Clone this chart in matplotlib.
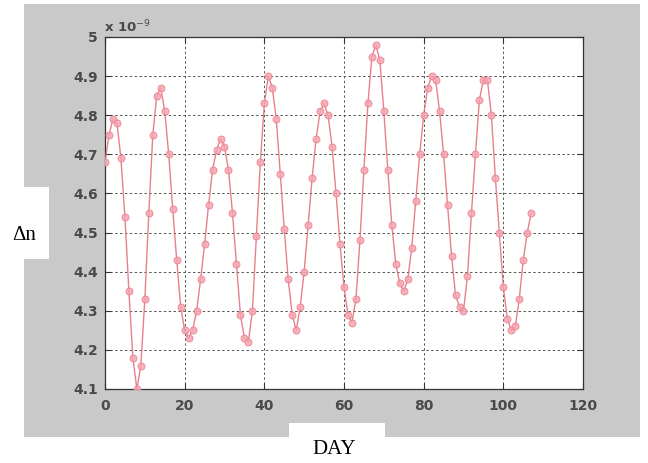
#!/usr/bin/env python3
"""
Refractive index change (x 1e-9) against day, MATLAB-style figure.
"""

import matplotlib
matplotlib.use('Agg')
import matplotlib.pyplot as plt
import matplotlib.patches as patches
import numpy as np

# values, in units of 1e-9
days = list(range(0, 108))
delta_n = [
    4.68, 4.75, 4.79, 4.78, 4.69, 4.54, 4.35, 4.18, 4.10, 4.16,
    4.33, 4.55, 4.75, 4.85, 4.87, 4.81, 4.70, 4.56, 4.43, 4.31,
    4.25, 4.23, 4.25, 4.30, 4.38, 4.47, 4.57, 4.66, 4.71, 4.74,
    4.72, 4.66, 4.55, 4.42, 4.29, 4.23, 4.22, 4.30, 4.49, 4.68,
    4.83, 4.90, 4.87, 4.79, 4.65, 4.51, 4.38, 4.29, 4.25, 4.31,
    4.40, 4.52, 4.64, 4.74, 4.81, 4.83, 4.80, 4.72, 4.60, 4.47,
    4.36, 4.29, 4.27, 4.33, 4.48, 4.66, 4.83, 4.95, 4.98, 4.94,
    4.81, 4.66, 4.52, 4.42, 4.37, 4.35, 4.38, 4.46, 4.58, 4.70,
    4.80, 4.87, 4.90, 4.89, 4.81, 4.70, 4.57, 4.44, 4.34, 4.31,
    4.30, 4.39, 4.55, 4.70, 4.84, 4.89, 4.89, 4.80, 4.64, 4.50,
    4.36, 4.28, 4.25, 4.26, 4.33, 4.43, 4.50, 4.55,
]
x_ticks = [0, 20, 40, 60, 80, 100, 120]
y_ticks = [4.1, 4.2, 4.3, 4.4, 4.5, 4.6, 4.7, 4.8, 4.9, 5.0]
y_tick_labels = ['4.1', '4.2', '4.3', '4.4', '4.5', '4.6', '4.7', '4.8', '4.9', '5']

W, H = 648, 463


def fx(px):
    return px / W


def fy(py):
    return 1 - py / H


fig = plt.figure(figsize=(6.48, 4.63), dpi=100)
fig.patch.set_facecolor('white')

# grey MATLAB figure background, with the two pasted white label boxes
fig.patches.append(patches.Rectangle((fx(24), fy(437)), fx(640) - fx(24), fy(4) - fy(437),
                                     transform=fig.transFigure, facecolor='#c9c9c9',
                                     edgecolor='none', zorder=-3))
fig.patches.append(patches.Rectangle((0, fy(259)), fx(49), fy(187) - fy(259),
                                     transform=fig.transFigure, facecolor='white',
                                     edgecolor='none', zorder=-2))
fig.patches.append(patches.Rectangle((fx(289), 0), fx(385) - fx(289), fy(423),
                                     transform=fig.transFigure, facecolor='white',
                                     edgecolor='none', zorder=-2))

ax = fig.add_axes([fx(105), fy(389), fx(583) - fx(105), fy(37) - fy(389)])
ax.set_facecolor('white')

ax.plot(days, delta_n, color='#e46a78', linewidth=1.0, marker='o', markersize=5,
        markerfacecolor='#f4a6b0', markeredgecolor='#ec8090', markeredgewidth=0.7,
        alpha=0.85, zorder=3)

ax.set_xlim(0, 120)
ax.set_ylim(4.1, 5.0)
ax.set_xticks(x_ticks)
ax.set_yticks(y_ticks)
ax.set_yticklabels(y_tick_labels)

ax.grid(True, color='#555555', linestyle=(0, (2.5, 2.5)), linewidth=0.7)
ax.tick_params(direction='in', top=True, right=True, length=4, width=0.8,
               labelsize=10, labelcolor='#4a4a4a', color='#333333')
ax.tick_params(axis='x', pad=7)
ax.tick_params(axis='y', pad=5)
for lab in ax.get_xticklabels() + ax.get_yticklabels():
    lab.set_fontweight('bold')
for sp in ax.spines.values():
    sp.set_color('#333333')
    sp.set_linewidth(0.9)

fig.text(fx(104), fy(27), r'x 10$^{-9}$', fontsize=9.5, color='#4a4a4a',
         fontweight='bold', ha='left', va='center', zorder=5)

fig.text(fx(24), fy(236), '\u0394n', fontsize=15, family='Liberation Serif',
         ha='center', va='center', zorder=5)
fig.text(fx(334), fy(449), 'DAY', fontsize=15, family='Liberation Serif',
         ha='center', va='center', zorder=5)

plt.savefig('out.png', dpi=100)
plt.close()
